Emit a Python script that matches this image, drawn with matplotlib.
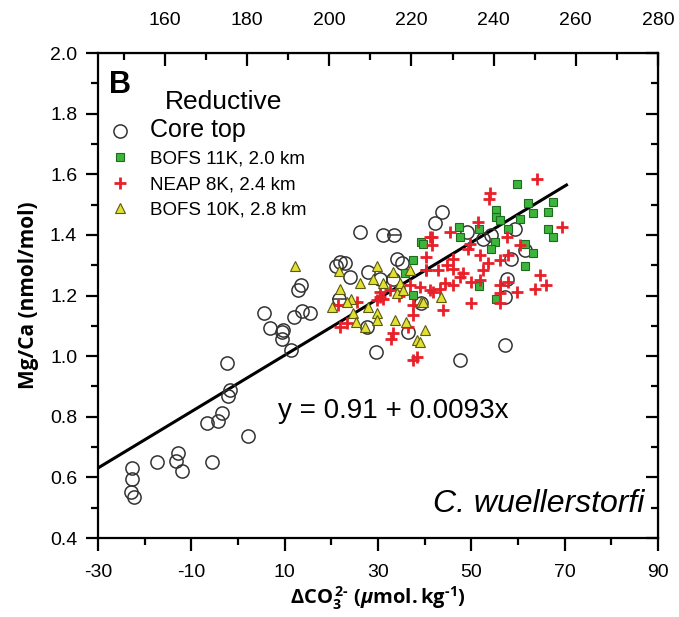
import matplotlib
matplotlib.use("Agg")
import matplotlib.pyplot as plt
from matplotlib.ticker import MultipleLocator

plt.rcParams["font.family"] = ["Liberation Sans", "DejaVu Sans"]
plt.rcParams["axes.unicode_minus"] = False
plt.rcParams["mathtext.fontset"] = "custom"
plt.rcParams["mathtext.rm"] = "Open Sans:bold"
plt.rcParams["mathtext.it"] = "Open Sans:bold:italic"
plt.rcParams["mathtext.bf"] = "Open Sans:bold"

# core top (open circles)
core_x = [-22.8, -22.8, -23.0, -22.3, -17.4, -13.3, -12.9, -11.9, -5.6, 2.2,
          -6.6, -4.2, -3.4, -2.1, -1.7, -2.4, 5.6, 6.9, 9.4, 9.4,
          11.9, 13.7, 13.6, 12.9, 11.4, 15.4, 21.9, 22.9, 21.1, 26.1,
          31.1, 24.0, 27.9, 33.3, 35.1, 27.6, 29.6, 36.5, 39.3, 42.2,
          43.8, 49.0, 52.6, 54.3, 59.4, 58.6, 61.5, 57.6, 57.2, 47.6,
          57.2, 9.7, 34.0, 30.4]
core_y = [0.631, 0.596, 0.552, 0.536, 0.651, 0.653, 0.682, 0.621, 0.650, 0.736,
          0.780, 0.786, 0.811, 0.868, 0.888, 0.976, 1.141, 1.093, 1.080, 1.058,
          1.130, 1.150, 1.234, 1.218, 1.020, 1.141, 1.311, 1.306, 1.296, 1.410,
          1.399, 1.262, 1.278, 1.256, 1.306, 1.097, 1.014, 1.080, 1.174, 1.438,
          1.476, 1.410, 1.388, 1.399, 1.421, 1.322, 1.350, 1.256, 1.196, 0.987,
          1.036, 1.086, 1.322, 1.256]
# core top points drawn with a bar through them
core_bar_x = [33.4, 21.7]
core_bar_y = [1.399, 1.187]

# BOFS 11K, 2.0 km
bofs11_x = [39.3, 37.6, 35.8, 37.6, 59.7, 62.2, 67.6, 63.3, 66.5, 55.3,
            55.3, 56.1, 60.4, 47.4, 47.6, 51.7, 57.9, 55.1, 54.3, 66.5,
            67.6, 61.5, 63.3, 61.5, 51.7, 55.3, 39.6]
bofs11_y = [1.377, 1.317, 1.273, 1.201, 1.568, 1.504, 1.509, 1.471, 1.476, 1.482,
            1.460, 1.449, 1.454, 1.427, 1.394, 1.421, 1.421, 1.377, 1.355, 1.421,
            1.394, 1.371, 1.341, 1.297, 1.231, 1.187, 1.370]

# NEAP 8K, 2.4 km
neap_x = [64.0, 54.0, 53.7, 51.5, 69.4, 45.4, 41.5, 49.7, 49.4, 57.6,
          60.4, 51.9, 57.9, 56.1, 53.6, 46.1, 46.1, 52.6, 44.7, 42.9,
          40.4, 48.3, 47.6, 64.7, 46.1, 50.0, 51.9, 56.1, 57.9, 66.1,
          63.6, 44.3, 43.3, 41.8, 41.1, 59.7, 56.1, 50.0, 56.1, 44.0,
          21.9, 23.3, 21.5, 29.7, 30.4, 31.1, 30.4, 32.6, 36.5, 33.3,
          32.9, 37.6, 37.6, 39.0, 36.9, 40.4, 40.4, 41.5, 37.6, 38.3,
          41.1, 25.5, 34.5]
neap_y = [1.586, 1.537, 1.520, 1.443, 1.427, 1.410, 1.394, 1.371, 1.355, 1.394,
          1.366, 1.333, 1.333, 1.317, 1.306, 1.322, 1.289, 1.284, 1.300, 1.284,
          1.284, 1.273, 1.262, 1.267, 1.234, 1.245, 1.251, 1.234, 1.245, 1.234,
          1.223, 1.240, 1.223, 1.212, 1.218, 1.212, 1.207, 1.174, 1.174, 1.152,
          1.097, 1.108, 1.168, 1.185, 1.196, 1.190, 1.212, 1.218, 1.097, 1.075,
          1.058, 1.135, 1.168, 1.229, 1.234, 1.284, 1.328, 1.366, 0.987, 0.998,
          1.394, 1.180, 1.200]

# BOFS 10K, 2.8 km
bofs10_x = [12.2, 21.6, 21.9, 20.1, 24.3, 24.7, 25.4, 23.3, 26.1, 27.9,
            29.7, 29.0, 29.7, 29.7, 31.1, 33.3, 34.0, 34.7, 35.4, 27.2,
            33.6, 36.1, 38.3, 40.1, 39.3, 36.9, 39.7, 43.6, 39.0]
bofs10_y = [1.297, 1.281, 1.223, 1.163, 1.190, 1.141, 1.113, 1.179, 1.240, 1.163,
            1.296, 1.256, 1.141, 1.119, 1.240, 1.278, 1.207, 1.240, 1.218, 1.097,
            1.119, 1.113, 1.053, 1.086, 1.179, 1.284, 1.179, 1.196, 1.047]

# regression y = 0.91 + 0.0093x
fit_x = [-30, 70.4]
fit_y = [0.91 + 0.0093 * v for v in fit_x]

bottom_ticks = [-30, -10, 10, 30, 50, 70, 90]
top_ticks = [160, 180, 200, 220, 240, 260, 280]


def to_top(v):
    return 280 + (v - 90) * 1.136


def from_top(v):
    return 90 + (v - 280) / 1.136


fig = plt.figure(figsize=(6.79, 6.17), dpi=100)
ax = fig.add_axes([0.1443, 0.128, 0.8247, 0.786])

ax.plot(fit_x, fit_y, color="black", lw=2.2, zorder=2)
ax.plot(core_x, core_y, "o", ms=9.5, mfc="none", mec="#333333", mew=1.1,
        zorder=3, label="Core top")
ax.plot(core_bar_x, core_bar_y, "o", ms=9.5, mfc="none", mec="#333333", mew=1.1, zorder=3)
ax.plot(core_bar_x, core_bar_y, "_", ms=9.5, mec="#333333", mew=1.1, zorder=3)
ax.plot(bofs11_x, bofs11_y, "s", ms=6, mfc="#3db53d", mec="#1d6b1d", mew=0.8,
        zorder=4, label="BOFS 11K, 2.0 km")
ax.plot(neap_x, neap_y, "+", ms=8, mec="#e8202a", mew=2.0,
        zorder=5, label="NEAP 8K, 2.4 km")
ax.plot(bofs10_x, bofs10_y, "^", ms=6.5, mfc="#e2e030", mec="#5a5a10", mew=0.8,
        zorder=6, label="BOFS 10K, 2.8 km")

ax.set_xlim(-30, 90)
ax.set_ylim(0.4, 2.0)
ax.set_xticks(bottom_ticks)
ax.xaxis.set_minor_locator(MultipleLocator(10))
ax.yaxis.set_major_locator(MultipleLocator(0.2))
ax.yaxis.set_minor_locator(MultipleLocator(0.1))
ax.yaxis.set_major_formatter(plt.FuncFormatter(lambda v, p: f"{v:.1f}"))
ax.tick_params(which="major", direction="out", length=9, width=1.6, labelsize=14)
ax.tick_params(which="minor", direction="out", length=5, width=1.6)
ax.tick_params(axis="x", which="major", pad=10)
ax.tick_params(axis="y", which="major", pad=6)
for sp in ax.spines.values():
    sp.set_linewidth(1.6)

top = ax.secondary_xaxis("top", functions=(to_top, from_top))
top.set_xticks(top_ticks)
top.xaxis.set_minor_locator(MultipleLocator(10))
top.tick_params(which="major", direction="in", length=9, width=1.6, labelsize=14, pad=17)
top.tick_params(which="minor", direction="in", length=5, width=1.6)

right = ax.secondary_yaxis("right")
right.yaxis.set_major_locator(MultipleLocator(0.2))
right.yaxis.set_minor_locator(MultipleLocator(0.1))
right.tick_params(which="major", direction="in", length=9, width=1.6, labelright=False)
right.tick_params(which="minor", direction="in", length=5, width=1.6)

ax.set_xlabel(r"$\Delta\mathrm{CO}_3^{\,2\text{-}}\ (\mu\mathrm{mol{.}kg}^{\text{-}1})$",
              fontsize=14.5, labelpad=2)
ax.set_ylabel("Mg/Ca (nmol/mol)", fontsize=15, fontweight="bold",
              family=["Open Sans", "DejaVu Sans"], labelpad=8)

leg = ax.legend(loc="upper left", bbox_to_anchor=(-0.007, 0.881), frameon=False,
                fontsize=13.5, handletextpad=0.6, labelspacing=0.45,
                borderaxespad=0)
leg.get_texts()[0].set_fontsize(18)

ax.text(0.02, 0.965, "B", transform=ax.transAxes, fontsize=22, fontweight="bold",
        va="top", ha="left")
ax.text(0.12, 0.90, "Reductive", transform=ax.transAxes, fontsize=19,
        va="center", ha="left")
ax.text(33.3, 0.82, "y = 0.91 + 0.0093x", fontsize=20, ha="center", va="center")
ax.text(0.975, 0.04, "C. wuellerstorfi", transform=ax.transAxes, fontsize=23,
        style="italic", ha="right", va="bottom")

fig.savefig("out.png", dpi=100)
